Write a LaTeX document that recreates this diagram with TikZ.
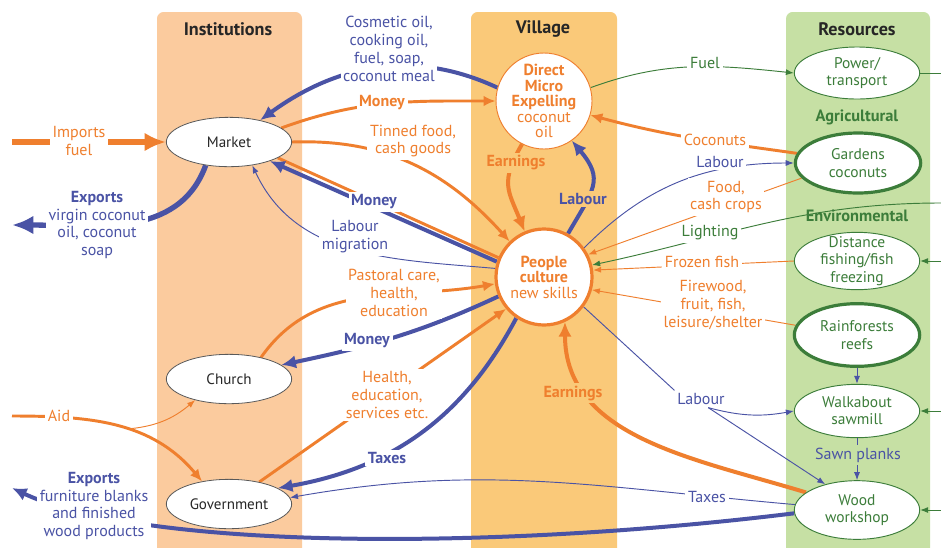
\documentclass[tikz,border=0pt]{standalone}
\usepackage{fontspec}
\setmainfont{PT Sans}
\usetikzlibrary{arrows.meta,shapes.geometric}
\definecolor{instband}{HTML}{FBCB9E}
\definecolor{villband}{HTML}{FAC979}
\definecolor{resband}{HTML}{C6E0A4}
\definecolor{orng}{HTML}{EF7F2E}
\definecolor{blu}{HTML}{4A53A5}
\definecolor{grn}{HTML}{3C7D3A}
\newcommand{\diagfont}{\fontsize{12}{13.4}\selectfont}
\pgfdeclarelayer{bands}
\pgfdeclarelayer{links}
\pgfsetlayers{bands,links,main}
\tikzset{%
    >={Latex[length=11pt,width=10pt]},
    head/.style={font=\fontsize{13.6}{15}\selectfont\bfseries, text=black!85},
    subhd/.style={font=\fontsize{12.3}{14}\selectfont\bfseries, text=grn},
    place/.style={ellipse, draw=black!65, line width=0.6pt, fill=white, minimum width=94pt, minimum height=37pt, inner sep=0pt, font=\fontsize{11.3}{13}\selectfont, text=black!85},
    res/.style={ellipse, draw=grn, line width=0.7pt, fill=white, minimum width=94pt, minimum height=40pt, inner sep=0pt, align=center, text=grn, font=\fontsize{11.6}{13}\selectfont},
    keyres/.style={res, line width=2.4pt},
    hub/.style={circle, draw=orng, fill=white, minimum size=72pt, inner sep=-1.5pt, align=center, text=orng, font=\fontsize{12}{11.6}\selectfont},
    lbl/.style={fill=white, inner sep=2pt, align=center, font=\diagfont},
    olbl/.style={lbl, text=orng},
    blbl/.style={lbl, text=blu},
    glbl/.style={lbl, text=grn},
    boldlbl/.style={font=\diagfont\bfseries},
    heavyflow/.style={line width=4pt, -{Latex[length=16pt,width=14pt]}},
    strongflow/.style={line width=3pt, ->},
    midflow/.style={line width=2.2pt, -{Latex[length=9pt,width=8pt]}},
    thinflow/.style={line width=0.7pt, -{Latex[length=6pt,width=4.5pt]}}
}

\begin{document}
\begin{tikzpicture}[x=0.75pt,y=0.75pt]
    \useasboundingbox (0,0) rectangle (941,-547);
    \begin{pgfonlayer}{bands}
      \fill[white] (0,0) rectangle (941,-547);
      \fill[instband,rounded corners=5pt] (157,-12) rectangle (302,-560);
      \fill[villband,rounded corners=5pt] (471,-12) rectangle (617,-560);
      \fill[resband,rounded corners=5pt] (786,-12) rectangle (930,-560);
    \end{pgfonlayer}

    \node[head] (insthd) at (228,-29) {Institutions};
    \node[head] (villhd) at (543,-29) {Village};
    \node[head] (reshd) at (857,-29) {Resources};

    \node[place] (market) at (229,-142) {Market};
    \node[place] (church) at (229,-379) {Church};
    \node[place] (gov) at (229,-504) {Government};

    \node[hub, line width=0.7pt] (dme) at (544,-101) {\textbf{Direct}\\\textbf{Micro}\\\textbf{Expelling}\\coconut\\oil};
    \node[hub, line width=2.4pt] (people) at (544,-277) {\textbf{People}\\\textbf{culture}\\new skills};

    \node[res, minimum height=39pt] (power) at (857,-73) {Power/\\transport};
    \node[subhd] (agri) at (857,-117) {Agricultural};
    \node[keyres, minimum height=45pt] (gardens) at (858,-163) {Gardens\\coconuts};
    \node[subhd] (env) at (857,-216) {Environmental};
    \node[res, minimum height=43pt, inner ysep=-5pt] (fishing) at (857,-261) {Distance\\fishing/fish\\freezing};
    \node[keyres, minimum height=47pt] (reefs) at (857,-335) {Rainforests\\reefs};
    \node[res, minimum height=40pt] (sawmill) at (857,-411) {Walkabout\\sawmill};
    \node[res, minimum height=44pt] (workshop) at (857,-510) {Wood\\workshop};

    \node[olbl] (imports) at (79,-141) {Imports\\fuel};
    \node[blbl] (exportsA) at (97,-225) {\textbf{Exports}\\virgin coconut\\oil, coconut\\soap};
    \node[blbl] (cosmetic) at (389,-49) {Cosmetic oil,\\cooking oil,\\fuel, soap,\\coconut meal};
    \node[olbl,boldlbl] (moneyA) at (382,-103) {Money};
    \node[olbl] (tinned) at (413,-141) {Tinned food,\\cash goods};
    \node[blbl,boldlbl] (moneyB) at (374,-202) {Money};
    \node[blbl] (migration) at (355,-237) {Labour\\migration};
    \node[olbl] (pastoral) at (394,-293) {Pastoral care,\\health,\\education};
    \node[blbl,boldlbl] (moneyC) at (367,-341) {Money};
    \node[olbl] (services) at (387,-395) {Health,\\education,\\services etc.};
    \node[blbl,boldlbl] (taxesA) at (387,-458) {Taxes};
    \node[olbl] (aid) at (59,-416) {Aid};
    \node[blbl] (exportsB) at (94,-506) {\textbf{Exports}\\furniture blanks\\and finished\\wood products};
    \node[olbl,boldlbl,fill=villband] (earnA) at (516,-163) {Earnings};
    \node[blbl,boldlbl,fill=villband] (labourA) at (583,-199) {Labour};
    \node[glbl] (fuel) at (705,-63) {Fuel};
    \node[olbl] (coconuts) at (715,-140) {Coconuts};
    \node[blbl] (labourB) at (720,-162) {Labour};
    \node[olbl] (food) at (726,-197) {Food,\\cash crops};
    \node[glbl] (lighting) at (710,-233) {Lighting};
    \node[olbl] (frozen) at (702,-262) {Frozen fish};
    \node[olbl] (firewood) at (713,-305) {Firewood,\\fruit, fish,\\leisure/shelter};
    \node[blbl] (labourC) at (701,-399) {Labour};
    \node[olbl,boldlbl,fill=villband] (earnB) at (573,-393) {Earnings};
    \node[blbl] (taxesB) at (707,-497) {Taxes};
    \node[blbl,fill=resband] (planks) at (858,-455) {Sawn planks};

    \coordinate (importsin) at (12,-142);
    \coordinate (exportsout) at (12,-225);
    \coordinate (aidin) at (12,-416);
    \coordinate (woodout) at (12,-488);
    \coordinate (lightin) at (941,-203);
    \coordinate (powerout) at (941,-73);
    \coordinate (fishin) at (941,-261);
    \coordinate (sawin) at (941,-411);
    \coordinate (workin) at (941,-510);

    \begin{pgfonlayer}{links}
      \draw[heavyflow,orng] (importsin) -- (market.west);
      \draw[heavyflow,blu] (market.225) to[out=-110,in=0] (exportsout);
      \draw[strongflow,blu] (dme.164) to[out=155,in=36] (market.35);
      \draw[midflow,orng] (market.15) to[out=20,in=180] (dme.west);
      \draw[midflow,orng] (market.east) to[out=2,in=132] (people.134);
      \draw[midflow,orng,-] (market.-18) -- (people.157);
      \draw[strongflow,blu] (people.162) -- (market.-25);
      \draw[thinflow,blu] (people.170) to[out=175,in=-65] (market.-45);
      \draw[midflow,orng] (church.34) to[out=55,in=190] (people.188);
      \draw[strongflow,blu] (people.203) to[out=205,in=12] (church.15);
      \draw[midflow,orng] (gov.36) -- (people.220);
      \draw[strongflow,blu] (people.236) to[out=242,in=10] (gov.18);
      \draw[thinflow,blu] (workshop.175) to[out=175,in=10] (gov.6);
      \draw[strongflow,blu] (workshop.183) .. controls (480,-552) and (140,-548) .. (woodout);
      \draw[midflow,orng] (aidin) to[out=0,in=130] coordinate[pos=0.55] (aidfork) (gov.140);
      \draw[thinflow,orng] (aidfork) to[out=5,in=220] (church.212);
      \draw[strongflow,orng] (dme.243) to[out=240,in=112,looseness=1.3] (people.113);
      \draw[strongflow,blu] (people.61) to[out=60,in=-50,looseness=1.4] (dme.-55);
      \draw[thinflow,grn] (dme.16) to[out=20,in=174] (power.west);
      \draw[thinflow,grn,-] (power.east) -- (powerout);
      \draw[midflow,orng] (gardens.171) to[out=172,in=-15] (dme.-17);
      \draw[thinflow,blu] (people.36) to[out=45,in=180] (gardens.west);
      \draw[thinflow,orng] (gardens.195) -- (people.27);
      \draw[thinflow,grn] (lightin) to[out=180,in=12] (people.14);
      \draw[thinflow,orng] (fishing.west) -- (people.8);
      \draw[thinflow,orng] (reefs.171) -- (people.-15);
      \draw[thinflow,blu,-] (people.-37) -- (labourC.north west);
      \draw[thinflow,blu] (labourC.-50) to[out=-15,in=190] (sawmill.west);
      \draw[thinflow,blu] (labourC.-50) -- (workshop.141);
      \draw[strongflow,orng] (workshop.161) to[out=163,in=-90] (people.-65);
      \draw[thinflow,blu] (reefs.south) -- (sawmill.north);
      \draw[thinflow,blu] (sawmill.south) -- (workshop.north);
      \draw[thinflow,grn] (fishin) -- (fishing.east);
      \draw[thinflow,grn] (sawin) -- (sawmill.east);
      \draw[thinflow,grn] (workin) -- (workshop.east);
    \end{pgfonlayer}
\end{tikzpicture}
\end{document}
